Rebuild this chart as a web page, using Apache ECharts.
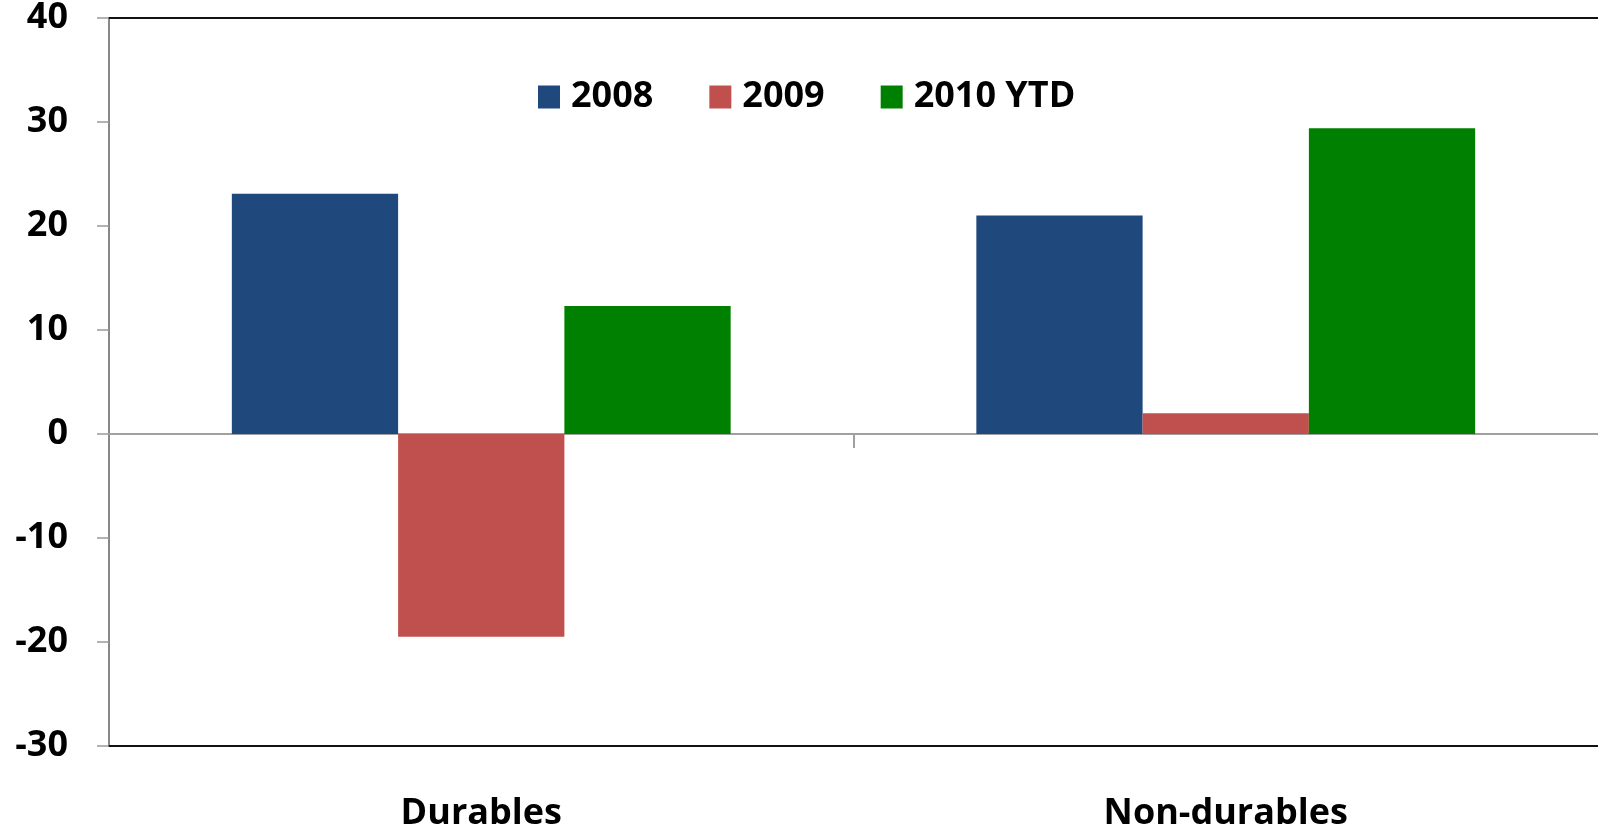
<!DOCTYPE html>
<html>
<head>
<meta charset="utf-8">
<script src="https://cdn.jsdelivr.net/npm/echarts@6/dist/echarts.min.js"></script>
<style>
html,body{margin:0;padding:0;background:#fff;}
#chart{width:1598px;height:832px;}
</style>
</head>
<body>
<div id="chart"></div>
<script>
const categories = ['Durables', 'Non-durables'];
const seriesNames = ['2008', '2009', '2010 YTD'];
const values2008 = [23.1, 21.0];
const values2009 = [-19.5, 2.0];
const values2010 = [12.3, 29.4];
const yTicks = [-30, -20, -10, 0, 10, 20, 30, 40];
const colors = ['#1F497D', '#C0504D', '#008000'];

const chart = echarts.init(document.getElementById('chart'));
const font = '"Open Sans", "Noto Sans", sans-serif';
const option = {
  animation: false,
  color: colors,
  grid: { left: 109, right: 0, top: 17, bottom: 84, containLabel: false },
  legend: {
    top: 74, left: 533,
    icon: 'rect', itemWidth: 22, itemHeight: 23, itemGap: 56,
    textStyle: { fontFamily: font, fontSize: 36, fontWeight: 700, color: '#000', padding: [0, 0, 0, 6] },
    data: seriesNames
  },
  xAxis: [
    {
      type: 'category', data: categories, position: 'bottom',
      axisLine: { onZero: false, lineStyle: { color: '#111', width: 2 } },
      axisTick: { show: false },
      axisLabel: { margin: 50, fontFamily: font, fontSize: 36, fontWeight: 700, color: '#000' },
      splitLine: { show: false }
    },
    {
      type: 'value', min: 0, max: 2, position: 'bottom',
      axisLine: { onZero: true, lineStyle: { color: '#a0a0a0', width: 2 } },
      axisTick: { show: true, customValues: [1], length: 14, lineStyle: { color: '#a0a0a0', width: 2 } },
      axisLabel: { show: false },
      splitLine: { show: false }
    },
    {
      type: 'value', min: 0, max: 2, position: 'top',
      axisLine: { show: true, onZero: false, lineStyle: { color: '#111', width: 2 } },
      axisTick: { show: false },
      axisLabel: { show: false },
      splitLine: { show: false }
    }
  ],
  yAxis: {
    type: 'value', min: yTicks[0], max: yTicks[yTicks.length - 1], interval: 10,
    axisLine: { show: true, onZero: false, lineStyle: { color: '#888', width: 2 } },
    axisTick: { show: true, length: 12, lineStyle: { color: '#999', width: 1.5 } },
    axisLabel: { margin: 41, fontFamily: font, fontSize: 36, fontWeight: 700, color: '#000', padding: [12, 0, 0, 0] },
    splitLine: { show: false }
  },
  series: [
    { name: seriesNames[0], type: 'bar', data: values2008, barGap: '0%', barCategoryGap: '33%', xAxisIndex: 0 },
    { name: seriesNames[1], type: 'bar', data: values2009, barGap: '0%', barCategoryGap: '33%', xAxisIndex: 0 },
    { name: seriesNames[2], type: 'bar', data: values2010, barGap: '0%', barCategoryGap: '33%', xAxisIndex: 0 }
  ]
};
chart.setOption(option);
</script>
</body>
</html>
